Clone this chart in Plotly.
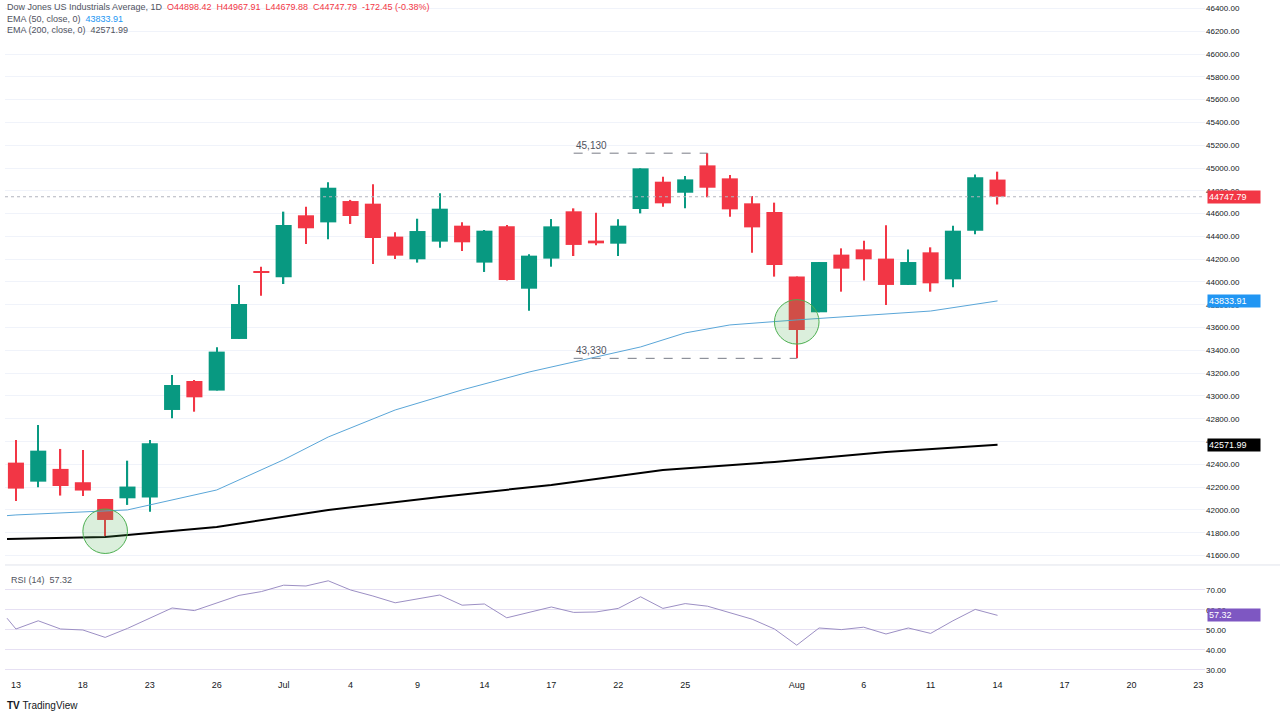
import plotly.graph_objects as go
from plotly.subplots import make_subplots

# daily candles, Jun 13 .. Aug 14 (bar index 0..44)
opens = [42415, 42248, 42360, 42243, 42096, 42102, 42108, 42877, 43131, 43047,
         43500, 44090, 44041, 44585, 44523, 44710, 44687, 44398, 44199, 44354,
         44494, 44170, 44488, 43941, 44205, 44620, 44363, 44336, 44640, 44880,
         44783, 45023, 44909, 44690, 44614, 44047, 43734, 44240, 44286, 44205,
         43974, 44260, 44023, 44450, 44898.42]
highs = [42614, 42746, 42535, 42526, 42096, 42432, 42614, 43184, 43140, 43427,
         43974, 44134, 44617, 44661, 44874, 44720, 44857, 44436, 44555, 44778,
         44523, 44456, 44500, 44243, 44552, 44646, 44608, 44550, 44997, 44924,
         44930, 45130, 44938, 44754, 44696, 44047, 44175, 44295, 44362, 44497,
         44286, 44304, 44494, 44944, 44967.91]
lows = [42079, 42200, 42126, 42123, 41772, 42044, 41985, 42804, 42862, 43047,
        43500, 43880, 43982, 44333, 44374, 44509, 44158, 44202, 44170, 44301,
        44272, 44088, 44012, 43748, 44134, 44228, 44322, 44228, 44602, 44661,
        44646, 44743, 44573, 44257, 44047, 43330, 43734, 43915, 44012, 43798,
        43974, 43915, 43953, 44418, 44679.88]
closes = [42187, 42520, 42210, 42170, 41912, 42205, 42585, 43096, 42988, 43389,
          43807, 44080, 44500, 44471, 44827, 44579, 44386, 44231, 44447, 44643,
          44348, 44450, 44017, 44231, 44488, 44325, 44339, 44494, 44997, 44690,
          44900, 44827, 44637, 44479, 44149, 43579, 44175, 44117, 44199, 43974,
          44175, 43988, 44450, 44918, 44747.79]
bars = list(range(len(closes)))

ema50_x = [-0.4, 0, 5, 6, 9, 12, 14, 17, 20, 23, 26, 28, 30, 32, 35, 37, 40, 41, 44]
ema50_y = [41950, 41956, 42000, 42044, 42175, 42440, 42640, 42877, 43053, 43210,
           43342, 43430, 43553, 43623, 43667, 43693, 43728, 43745, 43833.91]
ema200_x = [-0.4, 4, 9, 14, 19, 24, 29, 34, 39, 44]
ema200_y = [41745, 41763, 41851, 42000, 42114, 42219, 42350, 42421, 42509, 42571.99]

rsi_x = [-0.4] + bars
rsi_y = [55.9, 50.5, 54.6, 50.5, 50.0, 46.3, 50.8, 55.9, 61.0, 59.7, 63.6,
         67.3, 69.2, 72.4, 72.0, 74.6, 70.0, 67.0, 63.6, 65.6, 67.5, 62.4,
         63.0, 56.1, 58.8, 61.5, 58.8, 59.0, 60.8, 66.6, 60.8, 63.2, 61.9,
         58.5, 55.4, 50.5, 42.4, 51.0, 50.2, 51.4, 48.0, 51.0, 48.3, 54.6,
         60.3, 57.32]

tick_pos = [0, 3, 6, 9, 12, 15, 18, 21, 24, 27, 30, 35, 38, 41, 44, 47, 50, 53]
tick_text = ['13', '18', '23', '26', 'Jul', '4', '9', '14', '17', '22', '25',
             'Aug', '6', '11', '14', '17', '20', '23']
price_ticks = list(range(41600, 46401, 200))
rsi_ticks = [30, 40, 50, 60, 70]

GREEN = '#089981'
RED = '#f23645'
BLUE = '#5aa6d8'
FONT = 'Liberation Sans'
TXT = '#131722'

fig = make_subplots(rows=2, cols=1, shared_xaxes=True)

fig.add_trace(go.Scatter(x=ema200_x, y=ema200_y, mode='lines',
                         line=dict(color='#000000', width=2)), row=1, col=1)
fig.add_trace(go.Scatter(x=ema50_x, y=ema50_y, mode='lines',
                         line=dict(color=BLUE, width=1)), row=1, col=1)

# candles drawn as bars: thin wick bar + wide body bar
cols = [GREEN if c >= o else RED for o, c in zip(opens, closes)]
fig.add_trace(go.Bar(x=bars, base=lows, y=[h - l for h, l in zip(highs, lows)],
                     width=0.06, marker=dict(color=cols, line_width=0)), row=1, col=1)
fig.add_trace(go.Bar(x=bars, base=[min(o, c) for o, c in zip(opens, closes)],
                     y=[max(abs(c - o), 12) for o, c in zip(opens, closes)],
                     width=0.72, marker=dict(color=cols, line_width=0)), row=1, col=1)

# RSI panel
fig.add_hrect(y0=30, y1=70, fillcolor='rgba(126,87,194,0.1)', line_width=0, row=2, col=1)
for lvl in [70, 50, 30]:
    fig.add_hline(y=lvl, line=dict(color='#9598a1', width=1, dash='dash'), row=2, col=1)
fig.add_trace(go.Scatter(x=rsi_x, y=rsi_y, mode='lines',
                         line=dict(color='#9c8fc4', width=1)), row=2, col=1)

# last close dotted line
fig.add_hline(y=closes[-1], line=dict(color='#b2b5be', width=1, dash='dot'), row=1, col=1)

# high / low measurements
hi_i = highs.index(max(highs))
lo_i = lows.index(min(lows[20:]))
start_i = 25
dash = dict(color='#787b86', width=1, dash='dash')
fig.add_shape(type='line', x0=start_i, x1=hi_i, y0=highs[hi_i], y1=highs[hi_i], line=dash, row=1, col=1)
fig.add_shape(type='line', x0=start_i, x1=lo_i, y0=lows[lo_i], y1=lows[lo_i], line=dash, row=1, col=1)
for v in (highs[hi_i], lows[lo_i]):
    fig.add_annotation(x=start_i, y=v, text=f"{v:,.0f}", showarrow=False,
                       xanchor='left', yanchor='bottom', font=dict(size=10, color='#50535e', family=FONT),
                       row=1, col=1)

# highlight circles
for ci, cy in [(4, ema200_y[1] + 50), (lo_i, 43650)]:
    fig.add_shape(type='circle', x0=ci - 1.0, x1=ci + 1.0, y0=cy - 195, y1=cy + 195,
                  fillcolor='rgba(76,175,80,0.2)', line=dict(color='#4caf50', width=1),
                  row=1, col=1)

# right-side value labels
for val, bg, yref in [(closes[-1], RED, 'y'), (ema50_y[-1], '#2196f3', 'y'),
                      (ema200_y[-1], '#000000', 'y'), (rsi_y[-1], '#7e57c2', 'y2')]:
    fig.add_annotation(xref='paper', x=1.002, yref=yref, y=val, text=f"{val:.2f}",
                       showarrow=False, xanchor='left', bgcolor=bg, width=50, align='left',
                       font=dict(color='white', size=9, family=FONT), borderpad=1)

# legend text
fig.add_annotation(xref='paper', yref='paper', x=0.0, y=1.0, xanchor='left', yanchor='top',
                   showarrow=False, align='left', font=dict(size=9, color='#50535e', family=FONT),
                   text=(f"Dow Jones US Industrials Average, 1D  <span style='color:{RED}'>"
                         f"O{opens[-1]:.2f}  H{highs[-1]:.2f}  L{lows[-1]:.2f}  C{closes[-1]:.2f}  "
                         f"{closes[-1] - 44920.24:.2f} (-0.38%)</span><br>"
                         f"EMA (50, close, 0)  <span style='color:#2196f3'>{ema50_y[-1]:.2f}</span><br>"
                         f"EMA (200, close, 0)  {ema200_y[-1]:.2f}"))
fig.add_annotation(xref='paper', yref='y2', x=0.003, y=75, xanchor='left', yanchor='middle',
                   showarrow=False, font=dict(size=9, color='#50535e', family=FONT),
                   text=f"RSI (14)  {rsi_y[-1]:.2f}")
fig.add_annotation(xref='paper', yref='paper', x=0.0, y=-0.04, xanchor='left', yanchor='middle',
                   showarrow=False, font=dict(size=10, color='#131722', family=FONT),
                   text="<b>TV</b> TradingView")

# panel separator
fig.add_shape(type='line', xref='paper', yref='paper', x0=0, x1=1.07, y0=0.1667, y1=0.1667,
              line=dict(color='#e0e3eb', width=1))

fig.update_layout(
    width=1280, height=717, paper_bgcolor='white', plot_bgcolor='white',
    margin=dict(l=5, r=75, t=0, b=39), showlegend=False, barmode='overlay',
    font=dict(family=FONT, size=9, color=TXT),
)
fig.update_xaxes(range=[-0.49, 53.3], showgrid=False, zeroline=False,
                 tickvals=tick_pos, ticktext=tick_text, showticklabels=False)
fig.update_xaxes(showticklabels=True, row=2, col=1, tickfont=dict(size=9, color=TXT))
fig.update_yaxes(side='right', range=[41517, 46474], tickvals=price_ticks, domain=[0.1667, 1],
                 ticktext=[f"{v}.00" for v in price_ticks], gridcolor='#f0f3fa',
                 zeroline=False, tickfont=dict(size=8, color=TXT), row=1, col=1)
fig.update_yaxes(side='right', range=[26, 76], tickvals=rsi_ticks, domain=[0, 0.1475],
                 ticktext=[f"{v}.00" for v in rsi_ticks], gridcolor='#e6e0f3',
                 zeroline=False, tickfont=dict(size=8, color=TXT), row=2, col=1)

fig.write_html("out.html", config={'displayModeBar': False},
               post_script="document.body.style.margin='0';")
